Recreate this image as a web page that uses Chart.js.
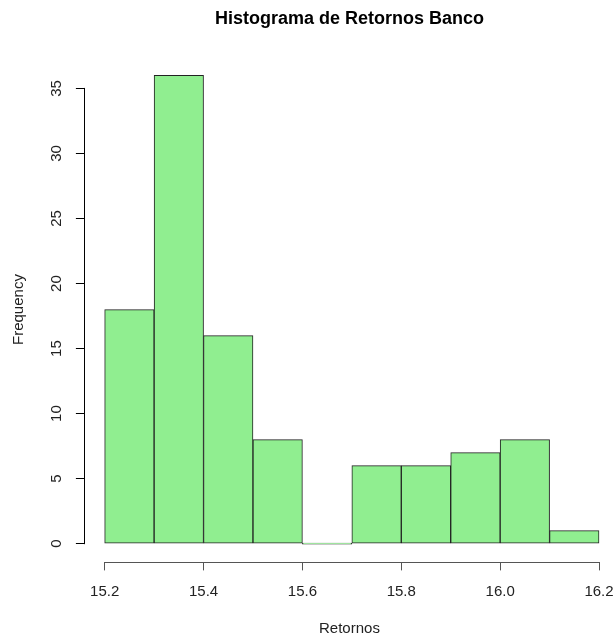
<!DOCTYPE html>
<html>
<head>
<meta charset="utf-8">
<script src="https://cdn.jsdelivr.net/npm/chart.js@4/dist/chart.umd.min.js"></script>
<style>
  html, body { margin: 0; padding: 0; background: #fff; }
  #wrap { width: 614px; height: 636px; }
</style>
</head>
<body>
<div id="wrap"><canvas id="c" width="614" height="636"></canvas></div>
<script>
// Histogram bins (lower edges), bin width 0.1
const binStarts = [15.2, 15.3, 15.4, 15.5, 15.6, 15.7, 15.8, 15.9, 16.0, 16.1];
const binWidth = 0.1;
const frequencies = [18, 36, 16, 8, 0, 6, 6, 7, 8, 1];
const xTicks = [15.2, 15.4, 15.6, 15.8, 16.0, 16.2];
const yTicks = [0, 5, 10, 15, 20, 25, 30, 35];

const FONT = "'Liberation Sans', Arial, sans-serif";

const points = binStarts.map((b, i) => ({ x: +(b + binWidth / 2).toFixed(3), y: frequencies[i] }));

const axisLines = {
  id: 'axisLines',
  afterDraw(chart) {
    const ctx = chart.ctx;
    const xs = chart.scales.x, ys = chart.scales.y;
    ctx.save();
    ctx.lineWidth = 1;
    ctx.strokeStyle = '#000';
    const yx = Math.round(ys.right) - 0.5;
    ctx.beginPath();
    ctx.moveTo(yx, ys.getPixelForValue(yTicks[0]) + 0.5);
    ctx.lineTo(yx, ys.getPixelForValue(yTicks[yTicks.length - 1]) - 0.5);
    ctx.stroke();
    ctx.strokeStyle = '#555';
    const xy = Math.round(xs.top) + 0.5;
    ctx.beginPath();
    ctx.moveTo(xs.getPixelForValue(xTicks[0]) - 0.5, xy);
    ctx.lineTo(xs.getPixelForValue(xTicks[xTicks.length - 1]) + 0.5, xy);
    ctx.stroke();
    ctx.restore();
  }
};

new Chart(document.getElementById('c'), {
  type: 'bar',
  data: {
    datasets: [{
      data: points,
      backgroundColor: '#90EE90',
      borderColor: '#222',
      borderWidth: 1,
      borderSkipped: false,
      minBarLength: 1,
      barPercentage: 1,
      categoryPercentage: 1
    }]
  },
  options: {
    responsive: false,
    devicePixelRatio: 1,
    animation: false,
    layout: { padding: 0 },
    plugins: {
      legend: { display: false },
      tooltip: { enabled: false },
      title: {
        display: true,
        text: 'Histograma de Retornos Banco',
        fullSize: false,
        color: '#000',
        font: { family: FONT, size: 18, weight: 'bold', lineHeight: 1.2 },
        padding: { top: 8, bottom: 27.1 }
      }
    },
    scales: {
      x: {
        type: 'linear',
        min: 15.16,
        max: 16.2303,
        offset: false,
        afterBuildTicks: (s) => { s.ticks = xTicks.map(v => ({ value: v })); },
        afterFit: (s) => { s.height = 73.6; s.paddingLeft = 0; s.paddingRight = 0; },
        ticks: {
          color: '#222',
          font: { family: FONT, size: 15, lineHeight: 1.2 },
          padding: 12.5,
          maxRotation: 0,
          autoSkip: false,
          callback: (v) => Number(v).toFixed(1)
        },
        grid: { display: true, offset: false, drawOnChartArea: false, drawTicks: true, tickLength: 8, color: '#555', lineWidth: 1 },
        border: { display: false },
        title: {
          display: true,
          text: 'Retornos',
          color: '#222',
          font: { family: FONT, size: 15, lineHeight: 1 },
          padding: 0
        }
      },
      y: {
        type: 'linear',
        position: 'left',
        min: -1.44,
        max: 37.44,
        afterBuildTicks: (s) => { s.ticks = yTicks.map(v => ({ value: v })); },
        afterFit: (s) => { s.width = 84.9; },
        ticks: {
          color: '#222',
          font: { family: FONT, size: 15, lineHeight: 1.2 },
          minRotation: 90,
          maxRotation: 90,
          crossAlign: 'center',
          padding: 11,
          autoSkip: false
        },
        grid: { display: true, drawOnChartArea: false, drawTicks: true, tickLength: 9, color: '#000', lineWidth: 1 },
        border: { display: false },
        title: {
          display: true,
          text: 'Frequency',
          color: '#222',
          font: { family: FONT, size: 15, lineHeight: 1 },
          padding: { top: 11, bottom: 0 }
        }
      }
    }
  },
  plugins: [axisLines]
});
</script>
</body>
</html>
